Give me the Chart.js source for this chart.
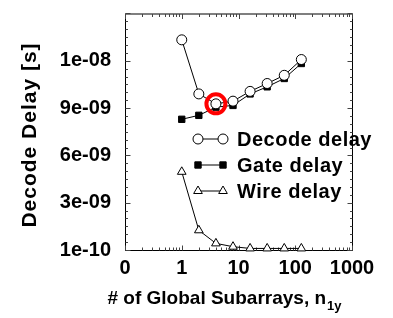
<!DOCTYPE html>
<html>
<head>
<meta charset="utf-8">
<script src="https://cdn.jsdelivr.net/npm/chart.js@4"></script>
<style>
html, body { margin: 0; padding: 0; background: #fff; }
canvas { display: block; }
</style>
</head>
<body>
<canvas id="chart" width="393" height="318"></canvas>
<script>
// number of global subarrays (n1y)
var subarrays = [1, 2, 4, 8, 16, 32, 64, 128];
// delays in seconds
var decodeDelay = [13.33e-9, 9.9e-9, 9.27e-9, 9.44e-9, 10.06e-9, 10.56e-9, 11.08e-9, 12.08e-9];
var gateDelay   = [8.29e-9, 8.54e-9, 9.06e-9, 9.17e-9, 9.9e-9, 10.35e-9, 10.88e-9, 11.83e-9];
var wireDelay   = [4.96e-9, 1.25e-9, 0.42e-9, 0.21e-9, 0.1e-9, 0.1e-9, 0.1e-9, 0.1e-9];
// highlighted optimum point (red ring)
var optimumX = [4];
var optimumY = [9.27e-9];

var xTickValues = [0.1, 1, 10, 100, 1000];
var xTickLabels = ['0', '1', '10', '100', '1000'];
var yTickValues = [0, 3e-9, 6e-9, 9e-9, 12e-9];
var yTickLabels = ['1e-10', '3e-09', '6e-09', '9e-09', '1e-08'];

var legendNames = ['Decode delay', 'Gate delay', 'Wire delay'];

function toPoints(xs, ys) {
    return xs.map(function(x, i) { return { x: x, y: ys[i] }; });
}

var FONT = '"Liberation Sans", Arial, Helvetica, sans-serif';

// frame, inward ticks, legend and axis titles
var framePlugin = {
    id: 'frame',
    beforeDatasetsDraw: function(chart) {
        var ctx = chart.ctx, a = chart.chartArea;
        var xs = chart.scales.x, ys = chart.scales.y;
        var L = a.left + 0.5, R = a.right + 0.5, T = a.top + 0.5, B = a.bottom + 0.5;
        ctx.save();
        ctx.strokeStyle = '#000';
        ctx.lineWidth = 1;
        ctx.strokeRect(L, T, R - L, B - T);

        ctx.strokeStyle = '#444';
        ctx.beginPath();
        // x ticks (log, minor 2..9)
        [0.1, 1, 10, 100].forEach(function(d) {
            for (var k = 1; k <= 10; k++) {
                var v = d * k;
                if (k === 10 && d !== 100) continue;
                var px = Math.round(xs.getPixelForValue(v)) + 0.5;
                var len = (k === 1 || k === 10) ? 5 : 3;
                ctx.moveTo(px, B); ctx.lineTo(px, B - len);
                ctx.moveTo(px, T); ctx.lineTo(px, T + len);
            }
        });
        // y ticks, minor every 0.5e-9
        for (var i = 0; i <= 30; i++) {
            var py = Math.round(ys.getPixelForValue(i * 0.5e-9)) + 0.5;
            var l = (i % 6 === 0) ? 5 : 2.5;
            ctx.moveTo(L, py); ctx.lineTo(L + l, py);
            ctx.moveTo(R, py); ctx.lineTo(R - l, py);
        }
        ctx.stroke();
        ctx.restore();
    },
    afterDraw: function(chart) {
        var ctx = chart.ctx;
        ctx.save();

        // legend
        var rowY = [139, 165, 191];
        for (var i = 0; i < 3; i++) {
            var ds = chart.data.datasets[i + 1];
            var y = rowY[i];
            ctx.strokeStyle = '#000';
            ctx.lineWidth = 1;
            ctx.beginPath();
            ctx.moveTo(198, y); ctx.lineTo(223, y);
            ctx.stroke();
            [198, 223].forEach(function(x) {
                ctx.fillStyle = ds.pointBackgroundColor;
                ctx.strokeStyle = ds.pointBorderColor;
                ctx.lineWidth = ds.pointBorderWidth;
                Chart.helpers.drawPoint(ctx, {
                    pointStyle: ds.pointStyle,
                    radius: ds.pointRadius,
                    rotation: 0,
                    borderWidth: ds.pointBorderWidth
                }, x, y);
            });
            ctx.fillStyle = '#000';
            ctx.font = 'bold 20px ' + FONT;
            ctx.letterSpacing = '0.5px';
            ctx.textAlign = 'left';
            ctx.textBaseline = 'middle';
            ctx.fillText(legendNames[i], 237, y + 1);
        }

        // y title
        ctx.save();
        ctx.translate(30, 135);
        ctx.rotate(-Math.PI / 2);
        ctx.font = 'bold 21px ' + FONT;
        ctx.letterSpacing = '1px';
        ctx.textAlign = 'center';
        ctx.textBaseline = 'middle';
        ctx.fillText('Decode Delay [s]', 0, 0);
        ctx.restore();

        // x title with subscript
        ctx.letterSpacing = '0px';
        ctx.font = 'bold 19px ' + FONT;
        var main = '# of Global Subarrays, n';
        var wMain = ctx.measureText(main).width;
        ctx.font = 'bold 13px ' + FONT;
        var wSub = ctx.measureText('1y').width;
        var x0 = 224 - (wMain + wSub) / 2;
        ctx.textAlign = 'left';
        ctx.textBaseline = 'alphabetic';
        ctx.font = 'bold 19px ' + FONT;
        ctx.fillText(main, x0, 304);
        ctx.font = 'bold 13px ' + FONT;
        ctx.fillText('1y', x0 + wMain + 1, 310);

        ctx.restore();
    }
};

function noPad(scale) {
    scale.paddingTop = 0;
    scale.paddingBottom = 0;
    scale.paddingLeft = 0;
    scale.paddingRight = 0;
}

var ctx = document.getElementById('chart').getContext('2d');

new Chart(ctx, {
    type: 'line',
    data: {
        datasets: [{
            label: 'optimum',
            data: toPoints(optimumX, optimumY),
            showLine: false,
            pointStyle: 'circle',
            pointRadius: 9.5,
            pointBorderWidth: 4,
            pointBorderColor: '#ff0000',
            pointBackgroundColor: 'rgba(0,0,0,0)',
            clip: false
        }, {
            label: 'Decode delay',
            data: toPoints(subarrays, decodeDelay),
            borderColor: '#000',
            borderWidth: 1,
            pointStyle: 'circle',
            pointRadius: 5,
            pointBorderWidth: 1,
            pointBorderColor: '#000',
            pointBackgroundColor: '#fff',
            clip: false
        }, {
            label: 'Gate delay',
            data: toPoints(subarrays, gateDelay),
            borderColor: '#000',
            borderWidth: 1,
            pointStyle: 'rect',
            pointRadius: 4.5,
            pointBorderWidth: 1,
            pointBorderColor: '#000',
            pointBackgroundColor: '#000',
            clip: false
        }, {
            label: 'Wire delay',
            data: toPoints(subarrays, wireDelay),
            borderColor: '#000',
            borderWidth: 1,
            pointStyle: 'triangle',
            pointRadius: 5,
            pointBorderWidth: 1,
            pointBorderColor: '#000',
            pointBackgroundColor: '#fff',
            clip: false
        }]
    },
    options: {
        responsive: false,
        animation: false,
        devicePixelRatio: 1,
        layout: { padding: { top: 11, right: 41, left: 0, bottom: 0 } },
        plugins: {
            legend: { display: false },
            tooltip: { enabled: false }
        },
        scales: {
            x: {
                type: 'logarithmic',
                min: 0.1,
                max: 1000,
                grid: { display: false, drawTicks: false },
                border: { display: false },
                afterBuildTicks: function(scale) {
                    scale.ticks = xTickValues.map(function(v) { return { value: v }; });
                },
                afterFit: function(scale) { scale.height = 68; noPad(scale); },
                ticks: {
                    autoSkip: false,
                    maxRotation: 0,
                    padding: 6,
                    color: '#000',
                    font: { family: FONT, size: 20, weight: 'bold' },
                    callback: function(v, i) { return xTickLabels[i]; }
                }
            },
            y: {
                type: 'linear',
                min: 0,
                max: 15e-9,
                grid: { display: false, drawTicks: false },
                border: { display: false },
                afterBuildTicks: function(scale) {
                    scale.ticks = yTickValues.map(function(v) { return { value: v }; });
                },
                afterFit: function(scale) { scale.width = 125; noPad(scale); },
                ticks: {
                    padding: 14,
                    color: '#000',
                    font: { family: FONT, size: 20, weight: 'bold' },
                    callback: function(v, i) { return yTickLabels[i]; }
                }
            }
        }
    },
    plugins: [framePlugin]
});
</script>
</body>
</html>
